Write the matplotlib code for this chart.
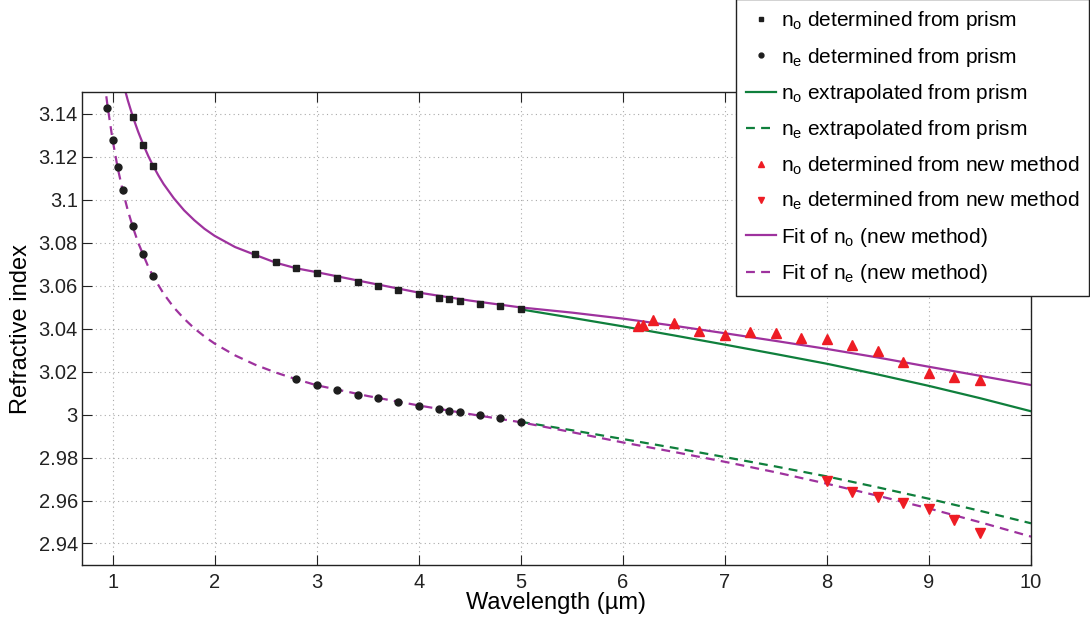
import numpy as np
import matplotlib.pyplot as plt
from matplotlib.ticker import FuncFormatter

plt.rcParams['font.family'] = ['Liberation Sans', 'DejaVu Sans']
plt.rcParams['mathtext.fontset'] = 'custom'
plt.rcParams['mathtext.rm'] = 'Liberation Sans'
plt.rcParams['mathtext.it'] = 'Liberation Sans:italic'

# prism measurements
no_prism_x = [1.2, 1.3, 1.4, 2.4, 2.6, 2.8, 3.0, 3.2, 3.4, 3.6, 3.8, 4.0, 4.2, 4.3, 4.4, 4.6, 4.8, 5.0]
no_prism_y = [3.1383, 3.1255, 3.1155, 3.0747, 3.0710, 3.0681, 3.0658, 3.0634, 3.0616, 3.0597,
              3.0578, 3.0562, 3.0544, 3.0539, 3.0529, 3.0515, 3.0503, 3.0489]
ne_prism_x = [0.95, 1.0, 1.05, 1.1, 1.2, 1.3, 1.4, 2.8, 3.0, 3.2, 3.4, 3.6, 3.8, 4.0, 4.2, 4.3, 4.4, 4.6, 4.8, 5.0]
ne_prism_y = [3.1425, 3.1278, 3.1151, 3.1046, 3.0877, 3.0745, 3.0645, 3.0164, 3.0136, 3.0115,
              3.0093, 3.0076, 3.0059, 3.0041, 3.0027, 3.0018, 3.0010, 2.9996, 2.9982, 2.9966]

# extrapolation of the prism data
ext_x = [5, 5.5, 6, 6.5, 7, 7.5, 8, 8.5, 9, 9.5, 10]
no_ext_y = [3.0489, 3.0450, 3.0410, 3.0368, 3.0325, 3.0281, 3.0236, 3.0186, 3.0133, 3.0076, 3.0015]
ne_ext_y = [2.9966, 2.9927, 2.9886, 2.9845, 2.9802, 2.9758, 2.9712, 2.9661, 2.9608, 2.9552, 2.9494]

# new method
no_new_x = [6.15, 6.2, 6.3, 6.5, 6.75, 7.0, 7.25, 7.5, 7.75, 8.0, 8.25, 8.5, 8.75, 9.0, 9.25, 9.5]
no_new_y = [3.0410, 3.0418, 3.0439, 3.0424, 3.0390, 3.0368, 3.0385, 3.0379, 3.0354, 3.0352,
            3.0321, 3.0294, 3.0242, 3.0192, 3.0175, 3.0162]
ne_new_x = [8.0, 8.25, 8.5, 8.75, 9.0, 9.25, 9.5]
ne_new_y = [2.9693, 2.9641, 2.9616, 2.9589, 2.9561, 2.9508, 2.9450]

# fits (new method)
no_fit_x = [1.10, 1.15, 1.20, 1.25, 1.30, 1.35, 1.40, 1.45, 1.50, 1.60, 1.70, 1.80, 1.90, 2.00,
            2.20, 2.40, 2.60, 2.80, 3.00, 3.50, 4.00, 4.50, 5.00, 5.50, 6.00, 6.50, 7.00, 7.50,
            8.00, 8.50, 9.00, 9.50, 10.0]
no_fit_y = [3.1547, 3.1460, 3.1383, 3.1316, 3.1256, 3.1202, 3.1154, 3.1111, 3.1072, 3.1006,
            3.0950, 3.0904, 3.0864, 3.0831, 3.0779, 3.0742, 3.0706, 3.0680, 3.0662, 3.0614,
            3.0567, 3.0530, 3.0498, 3.0474, 3.0446, 3.0413, 3.0378, 3.0342, 3.0305, 3.0265,
            3.0222, 3.0180, 3.0137]
ne_fit_x = [0.92, 0.95, 1.00, 1.05, 1.10, 1.15, 1.20, 1.25, 1.30, 1.35, 1.40, 1.50, 1.60, 1.70,
            1.80, 1.90, 2.00, 2.20, 2.40, 2.60, 2.80, 3.00, 3.50, 4.00, 4.50, 5.00, 5.50, 6.00,
            6.50, 7.00, 7.50, 8.00, 8.50, 9.00, 9.50, 10.0]
ne_fit_y = [3.1550, 3.1437, 3.1278, 3.1147, 3.1040, 3.0948, 3.0870, 3.0800, 3.0743, 3.0687,
            3.0640, 3.0562, 3.0498, 3.0446, 3.0401, 3.0363, 3.0330, 3.0275, 3.0231, 3.0195,
            3.0164, 3.0136, 3.0086, 3.0042, 3.0002, 2.9964, 2.9918, 2.9870, 2.9826, 2.9780,
            2.9731, 2.9678, 2.9622, 2.9563, 2.9499, 2.9432]

PURPLE = '#9E329E'
GREEN = '#0F7F3C'
RED = '#EE1C24'
BLACK = '#1E1E1E'
DASH = (4, 2.8)

fig = plt.figure(figsize=(10.9, 6.23), dpi=100)
ax = fig.add_axes([0.0752, 0.0931, 0.8707, 0.7592])

ax.plot(no_prism_x, no_prism_y, 's', color=BLACK, ms=5, zorder=4,
        label=r'n$_\mathrm{o}$ determined from prism')
ax.plot(ne_prism_x, ne_prism_y, 'o', color=BLACK, ms=5, zorder=4,
        label=r'n$_\mathrm{e}$ determined from prism')
ax.plot(ext_x, no_ext_y, '-', color=GREEN, lw=1.6,
        label=r'n$_\mathrm{o}$ extrapolated from prism')
ax.plot(ext_x, ne_ext_y, '--', color=GREEN, lw=1.6, dashes=DASH,
        label=r'n$_\mathrm{e}$ extrapolated from prism')
ax.plot(no_new_x, no_new_y, '^', color=RED, ms=6.5, zorder=4,
        label=r'n$_\mathrm{o}$ determined from new method')
ax.plot(ne_new_x, ne_new_y, 'v', color=RED, ms=6.5, zorder=4,
        label=r'n$_\mathrm{e}$ determined from new method')
ax.plot(no_fit_x, no_fit_y, '-', color=PURPLE, lw=1.6,
        label=r'Fit of n$_\mathrm{o}$ (new method)')
ax.plot(ne_fit_x, ne_fit_y, '--', color=PURPLE, lw=1.6, dashes=DASH,
        label=r'Fit of n$_\mathrm{e}$ (new method)')

ax.set_xlim(0.7, 10)
ax.set_ylim(2.93, 3.15)
ax.set_xticks(np.arange(1, 11))
ax.set_yticks(np.round(np.arange(2.94, 3.141, 0.02), 2))
ax.yaxis.set_major_formatter(FuncFormatter(lambda v, p: '%g' % round(v, 2)))
ax.tick_params(direction='in', length=7, width=0.8, top=True, right=True, labelsize=14.5,
               colors='#222222')
ax.tick_params(axis='y', pad=3)
ax.tick_params(axis='x', pad=6)
ax.grid(True, linestyle=(0, (1, 3)), color='#aaaaaa', lw=0.8)
for s in ax.spines.values():
    s.set_linewidth(1.0)
    s.set_color('#222222')

ax.set_xlabel('Wavelength (µm)', fontsize=17, labelpad=0)
ax.set_ylabel('Refractive index', fontsize=17, labelpad=5)

leg = ax.legend(loc='upper right', bbox_to_anchor=(0.9995, 1.002), bbox_transform=fig.transFigure,
                fontsize=15, numpoints=1, markerscale=0.7, handlelength=1.45, handletextpad=0.2,
                labelspacing=0.64, borderpad=0.5, borderaxespad=0, fancybox=False, framealpha=1,
                edgecolor='#222222')
leg.get_frame().set_linewidth(1.0)
leg.set_zorder(10)

fig.savefig('out.png', dpi=100)
